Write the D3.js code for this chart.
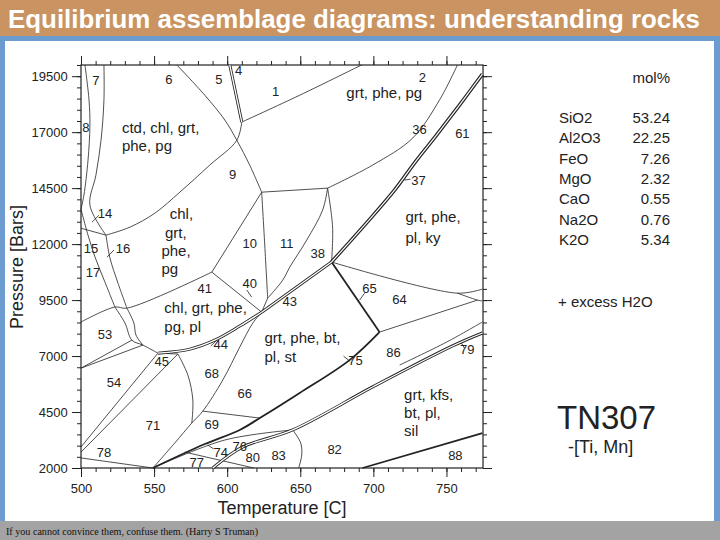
<!DOCTYPE html>
<html>
<head>
<meta charset="utf-8">
<script src="https://cdn.jsdelivr.net/npm/d3@7"></script>
<style>
body { margin: 0; background: #fff; }
text { font-family: "Liberation Sans", Arial, Helvetica, sans-serif; fill: #222; }
</style>
</head>
<body>
<script>
//data: temperature [C] / pressure [bars]
const xMajor = [500, 550, 600, 650, 700, 750];
const yMajor = [2000, 4500, 7000, 9500, 12000, 14500, 17000, 19500];

//field boundaries, [T, P]
const thinLines = [
  [[502.7,20000],[505.5,18430],[506.1,17310],[504.8,15750],[502,14190],[500,13560]],
  [[515.7,20000],[515.7,18430],[513.7,16640],[510.2,15080],[506.1,13740],[517.1,12400]],
  [[500,13560],[504.8,12400],[509.6,11420],[516.4,10300],[523.2,9190]],
  [[517.1,12400],[519.8,11380],[525.3,10260],[531.4,9140]],
  [[500,12710],[517.1,12400]],
  [[517.1,12400],[533.5,12760],[550.5,13380],[567.6,14320],[588.1,15530],[606.6,16640],[610,17450]],
  [[565.6,20000],[584.7,18650],[598.4,17540],[606.6,16640],[615.4,15530],[623.6,14320]],
  [[610,17450],[649.6,18650],[691.9,20000]],
  [[623.6,14320],[668.7,14500]],
  [[668.7,14500],[699.5,15530],[726.8,16730],[745.2,18430],[757.5,20000]],
  [[623.6,14320],[625.7,11960],[627.7,9590]],
  [[623.6,14320],[589.5,10750]],
  [[668.7,14500],[665.3,13520],[654.4,12180],[642.8,10970],[638,10390],[627.7,9590]],
  [[668.7,14500],[672.1,12760],[671.4,11200]],
  [[671.4,11200],[757.5,9810],[774.6,9990]],
  [[757.5,9810],[771.2,9500],[774.6,9460]],
  [[704.2,8070],[771.2,9500]],
  [[623.6,8960],[627.7,9590]],
  [[589.5,10750],[623.6,8960]],
  [[500,8520],[523.2,9190],[531.4,9140],[589.5,10750]],
  [[523.2,9190],[530.1,8470],[534.8,7710],[542.3,7490],[552.6,7130]],
  [[531.4,9140],[536.2,8470],[537.6,7940],[542.3,7490]],
  [[500,6460],[534.8,7710]],
  [[500,6460],[542.3,7490]],
  [[552.6,7130],[566.3,7090]],
  [[566.3,7090],[573.1,6150],[576.5,5040],[575.8,4010]],
  [[552.6,7130],[500,2940]],
  [[566.3,7090],[500,2710]],
  [[500,2450],[549.2,2000]],
  [[549.2,2000],[564.2,3120],[575.8,4010],[583.3,4540],[597,5930],[608.6,7400],[617.5,8470],[623.6,8960]],
  [[583.3,4540],[622.3,4230]],
  [[644.8,3700],[650.3,3120],[651,2580],[648.9,2000]],
  [[549.2,2000],[598.4,3250],[644.8,3700]],
  [[571,2710],[618.2,2000]],
  [[774.6,8520],[750,7620],[718,6600]]
];
const thickLines = [
  [[671.4,11200],[704.2,8070]],
  [[549.2,2000],[584.7,3070],[608.6,3700],[622.3,4230],[649.6,5350],[683.7,6820],[704.2,8070]],
  [[692.6,2000],[774.6,3560]]
];
const doubleLines = [
  [[601.8,20000],[610,17450]],
  [[774.6,19590],[758.9,18210],[743.2,16870],[728.1,15620],[714.5,14410],[694,12850],[671.4,11200]],
  [[671.4,11200],[623.6,8960]],
  [[623.6,8960],[608.6,8340],[591.5,7710],[574.5,7310],[552.6,7130]],
  [[774.6,8030],[754.1,7450],[699.5,5620],[644.8,3700],[610.7,2940],[590.2,2000]]
];

//short pointer strokes beside some field numbers
const pointers = [
  [[507.5,12980],[512.3,13290]],
  [[517.8,11420],[522.5,11730]],
  [[721.3,14860],[725.4,14900]],
  [[613.4,9950],[616.8,9630]],
  [[588.8,7450],[592.9,7710]],
  [[690.6,9500],[694,9810]],
  [[679.6,7000],[683.7,6780]],
  [[760.2,7580],[762.3,7360]],
  [[586.7,3030],[590.8,2850]]
];

//field numbers
const fieldNumbers = [
  ["7",510.2,19320],["6",560.1,19370],["5",594.3,19370],["4",607.9,19770],["1",633.2,18830],
  ["2",733.6,19450],["8",503.4,17220],["36",731.6,17130],["61",760.9,16950],["9",603.8,15120],
  ["37",730.9,14860],["14",516.4,13380],["15",506.8,11820],["16",528.7,11820],["17",508.2,10750],
  ["10",615.4,12050],["11",640.7,12050],["38",661.9,11600],["41",584.7,10040],["40",615.4,10260],
  ["65",697.4,10040],["64",717.9,9550],["43",642.8,9460],["53",516.4,7980],["44",595.6,7540],
  ["45",555.3,6780],["75",687.8,6820],["86",713.8,7180],["79",764.3,7310],["68",589.5,6240],
  ["54",522.5,5800],["66",612,5350],["71",549.2,3880],["69",589.5,3960],["76",608.6,2980],
  ["74",595.6,2710],["80",617.5,2450],["83",635.2,2540],["82",673.5,2850],["78",515.7,2710],
  ["77",579.2,2270],["88",756.1,2540]
];

//assemblage names, one entry per line of text
const assemblages = [
  ["ctd, chl, grt,",528,17180],["phe, pg",528,16380],
  ["grt, phe, pg",681.5,18740],
  ["chl,",560.7,13340],["grt,",557.4,12490],["phe,",555,11690],["pg",555,10880],
  ["grt, phe,",722,13200],["pl, ky",722,12270],
  ["chl, grt, phe,",557,9140],["pg, pl",557,8300],
  ["grt, phe, bt,",625.5,7800],["pl, st",625.5,6960],
  ["grt, kfs,",721,5260],["bt, pl,",721,4460],["sil",721,3650]
];

const oxides = ["SiO2", "Al2O3", "FeO", "MgO", "CaO", "Na2O", "K2O"];
const molPercent = [53.24, 22.25, 7.26, 2.32, 0.55, 0.76, 5.34];

const W = 720, H = 540;

const svg = d3.select("body").append("svg")
  .attr("width", W)
  .attr("height", H);

//slide frame
svg.append("rect").attr("width", W).attr("height", H).attr("fill", "#6c9bcf");
svg.append("rect").attr("width", W).attr("height", 36).attr("fill", "#c99461");
svg.append("rect").attr("x", 5).attr("y", 41).attr("width", 709).attr("height", 480).attr("fill", "#fff");
svg.append("rect").attr("x", 0).attr("y", 521).attr("width", W).attr("height", 19).attr("fill", "#a3a3a3");

svg.append("text")
  .attr("x", 8).attr("y", 28)
  .attr("textLength", 692).attr("lengthAdjust", "spacingAndGlyphs")
  .style("font-size", "26px").style("font-weight", "bold").style("fill", "#fff")
  .text("Equilibrium assemblage diagrams: understanding rocks");

svg.append("text")
  .attr("x", 6).attr("y", 535)
  .attr("textLength", 252).attr("lengthAdjust", "spacingAndGlyphs")
  .style("font-family", "'Liberation Serif', 'Times New Roman', serif")
  .style("font-size", "10px").style("fill", "#111")
  .text("If you cannot convince them, confuse them. (Harry S Truman)");

//Scales
const x = d3.scaleLinear().domain([500, 775]).range([81, 483]);
const y = d3.scaleLinear().domain([2000, 20000]).range([468, 65]);

const xMinor = d3.range(500, 776, 10);
const yMinor = d3.range(2000, 20001, 500);

const plot = svg.append("g");

function axis(gen, values, size, labels, tr) {
  const g = plot.append("g")
    .attr("transform", tr)
    .call(gen.tickValues(values).tickSize(size).tickFormat(labels ? d3.format("d") : ""));
  g.select(".domain").remove();
  g.selectAll("line").attr("stroke", "#222");
  g.selectAll("text").style("font-size", "13px").attr("fill", "#333");
  return g;
}

axis(d3.axisBottom(x), xMinor, 4, false, "translate(0,468)");
axis(d3.axisBottom(x), xMajor, 9, true, "translate(0,468)").selectAll("text").attr("dy", "1.0em");
axis(d3.axisTop(x), xMinor, 4, false, "translate(0,65)");
axis(d3.axisTop(x), xMajor, 9, false, "translate(0,65)");
axis(d3.axisLeft(y), yMinor, 4, false, "translate(81,0)");
axis(d3.axisLeft(y), yMajor, 9, true, "translate(81,0)").selectAll("text").attr("dx", "-0.1em");
axis(d3.axisRight(y), yMinor, 4, false, "translate(483,0)");
axis(d3.axisRight(y), yMajor, 9, false, "translate(483,0)");

plot.append("rect")
  .attr("x", x(500)).attr("y", y(20000))
  .attr("width", x(775) - x(500)).attr("height", y(2000) - y(20000))
  .attr("fill", "none").attr("stroke", "#222").attr("stroke-width", 1.2);

//d3 line
const line = d3.line()
  .x(d => x(d[0]))
  .y(d => y(d[1]))
  .curve(d3.curveCatmullRom.alpha(0.5));

plot.selectAll(".thin").data(thinLines.concat(pointers)).enter().append("path")
  .attr("d", line).attr("fill", "none").attr("stroke", "#222").attr("stroke-width", 0.8);

plot.selectAll(".thick").data(thickLines).enter().append("path")
  .attr("d", line).attr("fill", "none").attr("stroke", "#222").attr("stroke-width", 1.8);

plot.selectAll(".dbl").data(doubleLines).enter().append("path")
  .attr("d", line).attr("fill", "none").attr("stroke", "#222")
  .attr("stroke-width", (d, i) => i == 1 ? 3.6 : 3);
plot.selectAll(".dblw").data(doubleLines).enter().append("path")
  .attr("d", line).attr("fill", "none").attr("stroke", "#fff")
  .attr("stroke-width", (d, i) => i == 1 ? 1.2 : 1.3);

plot.selectAll(".num").data(fieldNumbers).enter().append("text")
  .attr("x", d => x(d[1])).attr("y", d => y(d[2]))
  .attr("text-anchor", "middle").attr("dy", "0.35em")
  .style("font-size", "13px")
  .text(d => d[0]);

plot.selectAll(".asm").data(assemblages).enter().append("text")
  .attr("x", d => x(d[1])).attr("y", d => y(d[2]))
  .attr("dy", "0.35em")
  .style("font-size", "15px")
  .text(d => d[0]);

//axis titles
svg.append("text")
  .attr("x", 282).attr("y", 514)
  .attr("text-anchor", "middle")
  .style("font-size", "18px")
  .text("Temperature [C]");

svg.append("text")
  .attr("transform", "translate(23,267) rotate(-90)")
  .attr("text-anchor", "middle")
  .style("font-size", "18px")
  .text("Pressure [Bars]");

//composition table
const comp = svg.append("g");
comp.append("text").attr("x", 670).attr("y", 83).attr("text-anchor", "end")
  .style("font-size", "15px").text("mol%");
comp.selectAll(".ox").data(oxides).enter().append("text")
  .attr("x", 559).attr("y", (d, i) => 123 + i * 20.3)
  .style("font-size", "15px").text(d => d);
comp.selectAll(".val").data(molPercent).enter().append("text")
  .attr("x", 670).attr("y", (d, i) => 123 + i * 20.3)
  .attr("text-anchor", "end")
  .style("font-size", "15px").text(d => d.toFixed(2));
comp.append("text").attr("x", 558).attr("y", 307)
  .style("font-size", "15px").text("+ excess H2O");
comp.append("text").attr("x", 557).attr("y", 429)
  .style("font-size", "33px").text("TN307");
comp.append("text").attr("x", 568).attr("y", 453)
  .style("font-size", "18px").text("-[Ti, Mn]");
</script>
</body>
</html>
